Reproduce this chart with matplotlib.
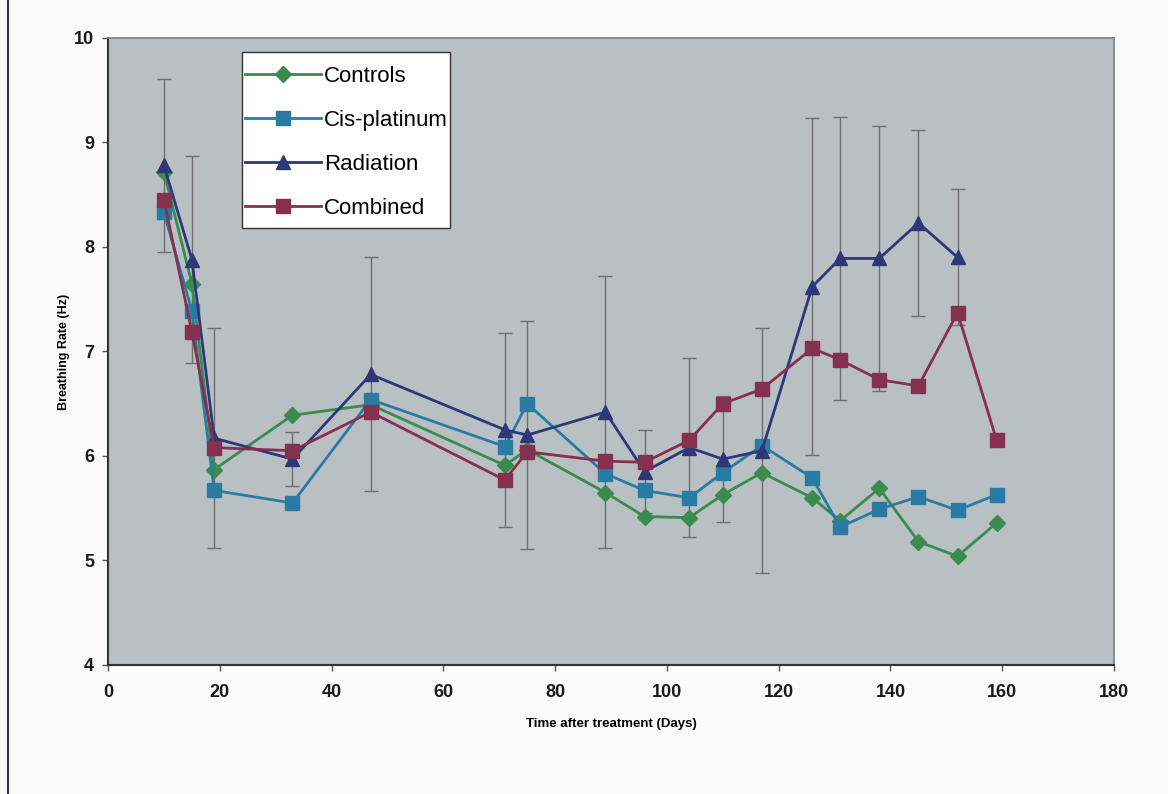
import numpy as np
import matplotlib.pyplot as plt
from matplotlib.lines import Line2D
from matplotlib.patches import Rectangle

# Days after treatment
days = [10, 15, 19, 33, 47, 71, 75, 89, 96, 104, 110, 117, 126, 131, 138, 145, 152, 159]

controls = [8.72, 7.65, 5.87, 6.39, 6.49, 5.91, 6.06, 5.65, 5.42, 5.41, 5.63, 5.84,
            5.60, 5.38, 5.69, 5.18, 5.04, 5.36]
cis_platinum = [8.33, 7.39, 5.67, 5.55, 6.54, 6.09, 6.50, 5.83, 5.67, 5.60, 5.84, 6.10,
                5.79, 5.32, 5.49, 5.61, 5.48, 5.63]
combined = [8.45, 7.19, 6.08, 6.05, 6.42, 5.77, 6.04, 5.95, 5.94, 6.15, 6.50, 6.64,
            7.03, 6.92, 6.73, 6.67, 7.37, 6.15]

# Radiation has no point at day 159
radiation_days = days[:-1]
radiation = [8.78, 7.88, 6.17, 5.97, 6.78, 6.25, 6.20, 6.42, 5.85, 6.08, 5.97, 6.05,
             7.62, 7.89, 7.89, 8.23, 7.90]
radiation_err = [0.83, 0.99, 1.05, 0.26, 1.12, 0.93, 1.09, 1.30, 0.40, 0.86, 0.60, 1.17,
                 1.61, 1.35, 1.27, 0.89, 0.65]

colors = {
    "Controls": "#3b8a4e",
    "Cis-platinum": "#2a7ba3",
    "Radiation": "#2e3878",
    "Combined": "#85304f",
}

plt.rcParams["font.family"] = ["Liberation Sans", "DejaVu Sans"]

fig = plt.figure(figsize=(11.68, 7.94), dpi=100, facecolor="#fbfbfb")
ax = fig.add_axes([0.0925, 0.1625, 0.8613, 0.7897])
ax.set_facecolor("#b8c0c4")

# Error bars (radiation group), drawn behind the lines
ax.errorbar(radiation_days, radiation, yerr=radiation_err, fmt="none",
            ecolor="#6e6e6e", elinewidth=1.0, capsize=5, capthick=1.0, zorder=1)

ax.plot(days, controls, color=colors["Controls"], marker="D", markersize=8,
        linewidth=2, label="Controls", zorder=3)
ax.plot(days, cis_platinum, color=colors["Cis-platinum"], marker="s", markersize=9.5,
        linewidth=2, label="Cis-platinum", zorder=3)
ax.plot(radiation_days, radiation, color=colors["Radiation"], marker="^", markersize=10,
        linewidth=2, label="Radiation", zorder=3)
ax.plot(days, combined, color=colors["Combined"], marker="s", markersize=9.5,
        linewidth=2, label="Combined", zorder=3)

ax.set_xlim(0, 180)
ax.set_ylim(4, 10)
ax.set_xticks(range(0, 181, 20))
ax.set_yticks(range(4, 11, 1))

ax.tick_params(axis="both", direction="out", length=4, width=1, color="#555555",
               labelsize=13)
ax.tick_params(axis="x", pad=10)
ax.tick_params(axis="y", pad=6)
for lbl in ax.get_xticklabels() + ax.get_yticklabels():
    lbl.set_fontweight("bold")
    lbl.set_color("#1a1a1a")

for side in ["left", "bottom"]:
    ax.spines[side].set_color("#333333")
    ax.spines[side].set_linewidth(1.5)
for side in ["top", "right"]:
    ax.spines[side].set_color("#7a7f82")
    ax.spines[side].set_linewidth(1.2)

ax.set_xlabel("Time after treatment (Days)", fontsize=9.5, fontweight="bold", labelpad=12)
ax.set_ylabel("Breathing Rate (Hz)", fontsize=9, fontweight="bold", labelpad=3)

# Legend box drawn separately so it can be tight around the handles
ax.add_patch(Rectangle((0.1332, 0.697), 0.2068, 0.2807, transform=ax.transAxes,
                       facecolor="white", edgecolor="#333333", linewidth=1.0,
                       zorder=4.5))
leg = ax.legend(loc="upper left", bbox_to_anchor=(0.134, 0.9585), fontsize=16,
                handlelength=3.4, handletextpad=0.15, labelspacing=1.03,
                borderpad=0.1, frameon=False, borderaxespad=0)
leg.set_zorder(5)

# Page border line at the left edge of the scan
fig.add_artist(Line2D([8 / 1168, 8 / 1168], [0, 1], color="#2a3560", linewidth=1.5))

fig.savefig("out.png", dpi=100, facecolor=fig.get_facecolor())
